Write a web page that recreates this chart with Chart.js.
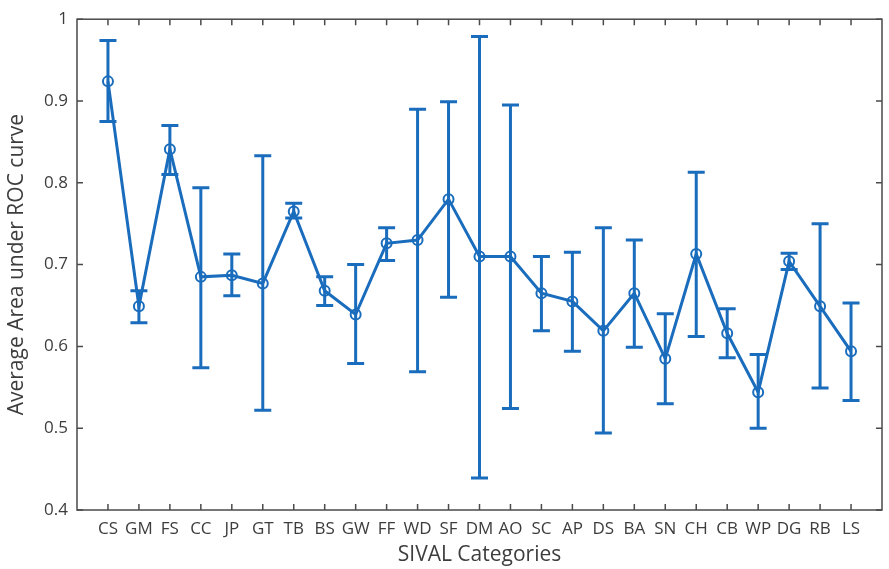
<!DOCTYPE html>
<html>
<head>
<meta charset="utf-8">
<script src="https://cdn.jsdelivr.net/npm/chart.js@4"></script>
<style>
html,body{margin:0;padding:0;background:#fff;}
#wrap{width:889px;height:569px;position:relative;}
</style>
</head>
<body>
<div id="wrap"><canvas id="c" width="889" height="569"></canvas></div>
<script>
const categories = ['CS','GM','FS','CC','JP','GT','TB','BS','GW','FF','WD','SF','DM','AO','SC','AP','DS','BA','SN','CH','CB','WP','DG','RB','LS'];
const meanAUC = [0.924,0.649,0.841,0.685,0.687,0.677,0.765,0.668,0.639,0.726,0.730,0.780,0.710,0.710,0.665,0.655,0.619,0.665,0.585,0.713,0.616,0.544,0.704,0.649,0.594];
const upperAUC = [0.974,0.668,0.870,0.794,0.713,0.833,0.775,0.685,0.700,0.745,0.890,0.899,0.979,0.895,0.710,0.715,0.745,0.730,0.640,0.813,0.646,0.590,0.714,0.750,0.653];
const lowerAUC = [0.875,0.629,0.810,0.574,0.662,0.522,0.757,0.650,0.579,0.705,0.569,0.660,0.439,0.524,0.619,0.594,0.494,0.599,0.530,0.612,0.586,0.500,0.694,0.549,0.534];
const yTicks = [0.4,0.5,0.6,0.7,0.8,0.9,1];

const BLUE = 'rgb(26,108,188)';
const AXIS = '#4a4a4a';
const TEXT = '#3d3d3d';
const FONT = "'Open Sans', 'Noto Sans', sans-serif";

const points = meanAUC.map((v,i)=>({x:i+1,y:v}));

const errorBars = {
  id:'errorBars',
  afterDatasetsDraw(chart){
    const {ctx, scales:{x,y}} = chart;
    ctx.save();
    ctx.strokeStyle = BLUE;
    ctx.lineWidth = 3;
    ctx.lineCap = 'butt';
    const cap = 8.5;
    for(let i=0;i<categories.length;i++){
      const px = x.getPixelForValue(i+1);
      const yl = y.getPixelForValue(lowerAUC[i]);
      const yh = y.getPixelForValue(upperAUC[i]);
      ctx.beginPath();
      ctx.moveTo(px,yl); ctx.lineTo(px,yh);
      ctx.moveTo(px-cap,yl); ctx.lineTo(px+cap,yl);
      ctx.moveTo(px-cap,yh); ctx.lineTo(px+cap,yh);
      ctx.stroke();
    }
    ctx.restore();
  }
};

const frame = {
  id:'frame',
  afterDraw(chart){
    const {ctx, chartArea:a, scales:{x,y}} = chart;
    ctx.save();
    ctx.strokeStyle = AXIS;
    ctx.lineWidth = 1.5;
    ctx.strokeRect(a.left, a.top, a.right-a.left, a.bottom-a.top);
    const t = 6;
    ctx.beginPath();
    for(let i=0;i<categories.length;i++){
      const px = x.getPixelForValue(i+1);
      ctx.moveTo(px,a.bottom); ctx.lineTo(px,a.bottom-t);
      ctx.moveTo(px,a.top); ctx.lineTo(px,a.top+t);
    }
    yTicks.forEach(v=>{
      const py = y.getPixelForValue(v);
      ctx.moveTo(a.left,py); ctx.lineTo(a.left+t,py);
      ctx.moveTo(a.right,py); ctx.lineTo(a.right-t,py);
    });
    ctx.stroke();
    ctx.restore();
  }
};

new Chart(document.getElementById('c'),{
  type:'line',
  data:{datasets:[{
    data:points,
    borderColor:BLUE,
    borderWidth:3,
    pointStyle:'circle',
    pointRadius:5,
    pointBorderWidth:2,
    pointBackgroundColor:'rgba(255,255,255,0)',
    pointBorderColor:BLUE,
    tension:0,
    fill:false
  }]},
  options:{
    responsive:false,
    animation:false,
    devicePixelRatio:1,
    layout:{padding:{top:11,right:1,left:0,bottom:0}},
    plugins:{legend:{display:false},tooltip:{enabled:false}},
    scales:{
      x:{
        type:'linear',min:0,max:26,
        afterBuildTicks(s){ s.ticks = categories.map((c,i)=>({value:i+1})); },
        afterFit(s){ s.height = 59; },
        grid:{display:false,drawTicks:false},
        border:{display:false},
        ticks:{autoSkip:false,maxRotation:0,padding:9,color:TEXT,font:{family:FONT,size:17},
          callback:(v)=>categories[v-1]},
        title:{display:true,text:'SIVAL Categories',color:TEXT,font:{family:FONT,size:21},padding:{top:0,bottom:1}}
      },
      y:{
        min:0.4,max:1,
        afterBuildTicks(s){ s.ticks = yTicks.map(v=>({value:v})); },
        afterFit(s){ s.width = 77; },
        grid:{display:false,drawTicks:false},
        border:{display:false},
        ticks:{padding:9,color:TEXT,font:{family:FONT,size:17},callback:(v)=>String(Math.round(v*10)/10)},
        title:{display:true,text:'Average Area under ROC curve',color:TEXT,font:{family:FONT,size:21},padding:{top:4,bottom:0}}
      }
    }
  },
  plugins:[errorBars,frame]
});
</script>
</body>
</html>
